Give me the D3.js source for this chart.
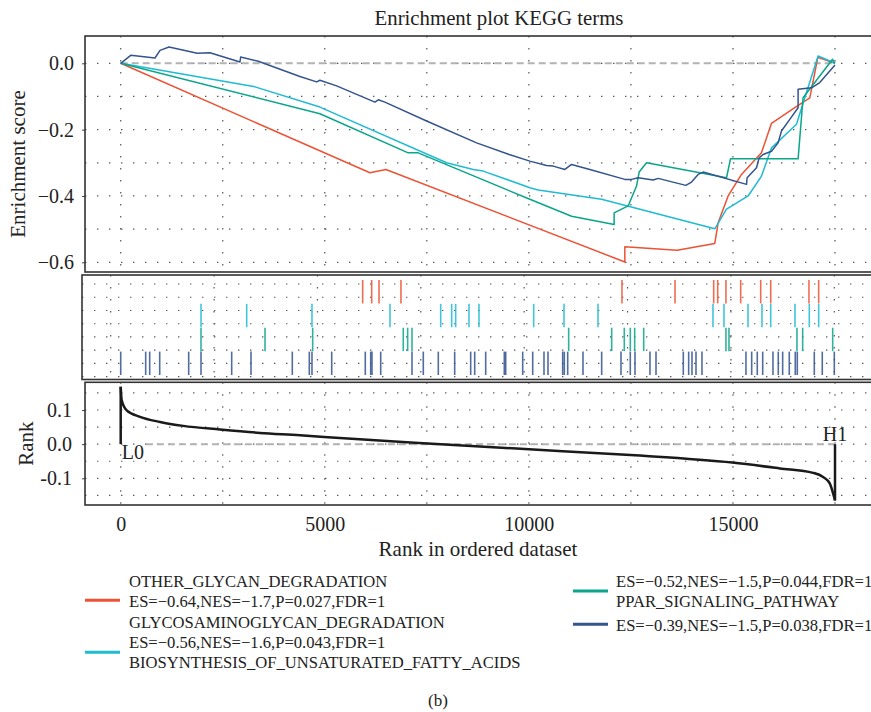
<!DOCTYPE html>
<html>
<head>
<meta charset="utf-8">
<script src="https://cdn.jsdelivr.net/npm/d3@7/dist/d3.min.js"></script>
<style>
  html, body { margin: 0; padding: 0; background: #fff; }
  svg { display: block; }
  text { font-family: "Liberation Serif", "DejaVu Serif", serif; fill: #222; }
</style>
</head>
<body>
<svg id="chart" width="871" height="712"></svg>
<script>
// ---------------- DATA ----------------
const seriesNames = ["OTHER_GLYCAN_DEGRADATION", "GLYCOSAMINOGLYCAN_DEGRADATION",
  "PPAR_SIGNALING_PATHWAY", "BIOSYNTHESIS_OF_UNSATURATED_FATTY_ACIDS"];
const seriesColors = ["#EC5234", "#1FBBD3", "#0AA58A", "#33548E"];

// running enrichment score: [rank, ES]
const esRed = [[0,0],[6106,-0.330],[6498,-0.320],[12351,-0.599],[12351,-0.553],[13632,-0.564],
  [14555,-0.543],[14637,-0.481],[14882,-0.400],[15209,-0.335],[15699,-0.270],[15944,-0.181],
  [16515,-0.134],[16882,-0.104],[17080,0.018],[17500,0]];
const esCyan = [[0,0],[3289,-0.071],[4881,-0.132],[7984,-0.300],[8636,-0.320],[8881,-0.325],
  [10024,-0.375],[10228,-0.382],[11781,-0.410],[14555,-0.499],[14842,-0.440],[15372,-0.400],
  [15699,-0.340],[15944,-0.255],[16557,-0.184],[16760,-0.104],[17086,0.022],[17500,0]];
const esGreen = [[0,0],[4881,-0.152],[7044,-0.270],[7289,-0.270],[10024,-0.410],[11046,-0.461],
  [12089,-0.486],[12089,-0.451],[12432,-0.430],[12638,-0.370],[12702,-0.328],[12883,-0.300],
  [14842,-0.345],[14940,-0.288],[16596,-0.288],[16718,-0.104],[17440,0.012],[17500,0]];
const esBlue = [[0,0],[245,0.024],[840,0.016],[963,0.039],[1183,0.049],[1876,0.030],[2187,0.032],
  [2922,0.004],[2939,0.019],[3370,0.006],[4391,-0.040],[4800,-0.056],[4881,-0.051],[5290,-0.068],
  [6228,-0.117],[6310,-0.110],[6473,-0.117],[7494,-0.174],[8719,-0.240],[9518,-0.275],
  [10024,-0.295],[10433,-0.308],[10596,-0.310],[10882,-0.320],[11046,-0.305],[11494,-0.320],
  [12351,-0.350],[12515,-0.350],[12677,-0.345],[13045,-0.352],[13167,-0.347],[13845,-0.368],
  [13985,-0.358],[14147,-0.335],[14270,-0.328],[15332,-0.365],[15347,-0.345],[15577,-0.315],
  [15641,-0.285],[15739,-0.275],[15944,-0.265],[16106,-0.240],[16189,-0.204],[16392,-0.169],
  [16596,-0.134],[16596,-0.078],[16924,-0.074],[17127,-0.058],[17500,-0.005]];

// gene hit positions (ranks) per set
const hitsRed = [6094,6312,6489,7020,12365,13648,14583,14680,14880,15236,15720,15962,16887,17122];
const hitsCyan = [2184,3289,4868,6755,7981,8247,8343,8665,8907,10230,10963,11785,14566,14832,
  15413,15751,15962,16549,16895,17122];
const hitsGreen = [2184,3732,4885,7076,7182,7287,11076,12116,12421,12566,12672,12890,14880,14953,
  16597,16735,17461];
const hitsBlue = [242,846,943,1185,1886,2184,2926,3393,4392,4803,4868,5345,6157,6288,6319,6530,
  7287,7560,7923,8319,8706,8803,9069,9519,9553,9964,10206,10479,10576,10931,10970,11052,11422,
  11874,12341,12566,12680,13042,13188,13848,13978,14058,14155,14300,15364,15502,15637,15768,
  16017,16145,16251,16411,16556,16605,17016,17209,17500];

// ranked list metric: [rank, value]
const rankMetric = [[0,0.168],[24,0.129],[147,0.099],[473,0.080],[963,0.065],[1533,0.0535],
  [2432,0.043],[3412,0.033],[4392,0.026],[4983,0.021],[7520,0.002],[10007,-0.015],[12490,-0.032],
  [14985,-0.054],[16147,-0.071],[16963,-0.084],[17208,-0.096],[17372,-0.115],[17453,-0.144],
  [17500,-0.165]];

const xTicks = [0, 5000, 10000, 15000];
const xGrid = [0, 2500, 5000, 7500, 10000, 12500, 15000, 17500];
const esTicks = [0, -0.2, -0.4, -0.6];
const esGrid = [0, -0.1, -0.2, -0.3, -0.4, -0.5, -0.6];
const rankTicks = [0.1, 0, -0.1];
const rankGrid = [0.15, 0.1, 0.05, 0, -0.05, -0.1, -0.15];

const legendLeftText = [
  ["OTHER_GLYCAN_DEGRADATION", "ES=\u22120.64,NES=\u22121.7,P=0.027,FDR=1"],
  ["GLYCOSAMINOGLYCAN_DEGRADATION", "ES=\u22120.56,NES=\u22121.6,P=0.043,FDR=1",
   "BIOSYNTHESIS_OF_UNSATURATED_FATTY_ACIDS"]
];
const legendLeftKeys = [0, 1];
const legendRightText = [
  ["ES=\u22120.52,NES=\u22121.5,P=0.044,FDR=1", "PPAR_SIGNALING_PATHWAY"],
  ["ES=\u22120.39,NES=\u22121.5,P=0.038,FDR=1"]
];
const legendRightKeys = [2, 3];

// ---------------- DRAW ----------------
const svg = d3.select("#chart");
const gridColor = "#555";
const gridDash = "1.4,10.6";

// scales
const x = d3.scaleLinear().domain([0, 17500]).range([120.7, 835]);
const xMid = d3.scaleLinear().domain([0, 17500]).range([110.7, 834.3]);
const yES = d3.scaleLinear().domain([0, -0.6]).range([63.3, 262.3]);
const yRank = d3.scaleLinear().domain([0.1, -0.1]).range([410, 478.3]);

const pTop = {x0: 85, x1: 900, y0: 36, y1: 272};
const pMid = {x0: 82, x1: 900, y0: 275, y1: 379.5};
const pBot = {x0: 85, x1: 900, y0: 382.3, y1: 505};

const series = [esRed, esCyan, esGreen, esBlue];
const hits = [hitsRed, hitsCyan, hitsGreen, hitsBlue];

// Title
svg.append("text").attr("x", 499).attr("y", 25).attr("text-anchor", "middle")
  .attr("font-size", 20.8).text("Enrichment plot KEGG terms");

// ---------- Top panel ----------
const gTop = svg.append("g");
gTop.selectAll(".vg").data(xGrid).join("line")
  .attr("x1", d => x(d)).attr("x2", d => x(d)).attr("y1", pTop.y0).attr("y2", pTop.y1)
  .attr("stroke", gridColor).attr("stroke-width", 1.2).attr("stroke-dasharray", gridDash);
gTop.selectAll(".hg").data(esGrid).join("line")
  .attr("x1", pTop.x0).attr("x2", pTop.x1).attr("y1", d => yES(d)).attr("y2", d => yES(d))
  .attr("stroke", gridColor).attr("stroke-width", 1.2).attr("stroke-dasharray", gridDash);
gTop.append("line").attr("x1", x(0)).attr("x2", x(17500)).attr("y1", yES(0)).attr("y2", yES(0))
  .attr("stroke", "#b3b3b3").attr("stroke-width", 2).attr("stroke-dasharray", "7,4");
const lineES = d3.line().x(d => x(d[0])).y(d => yES(d[1]));
series.forEach((s, i) => {
  gTop.append("path").datum(s).attr("d", lineES).attr("fill", "none")
    .attr("stroke", seriesColors[i]).attr("stroke-width", 1.5).attr("stroke-linejoin", "round");
});
const axES = d3.axisLeft(yES).tickValues(esTicks).tickSize(3).tickPadding(8)
  .tickFormat(d => d === 0 ? "0.0" : "\u2212" + Math.abs(d).toFixed(1));
const gAxES = svg.append("g").attr("transform", `translate(${pTop.x0},0)`).call(axES);
gAxES.select(".domain").remove();
gAxES.selectAll("line").attr("stroke", "#444");
gAxES.selectAll("text").attr("font-size", 20).attr("font-family", "Liberation Serif").attr("fill", "#222");
svg.append("rect").attr("x", pTop.x0).attr("y", pTop.y0).attr("width", pTop.x1 - pTop.x0)
  .attr("height", pTop.y1 - pTop.y0).attr("fill", "none").attr("stroke", "#333").attr("stroke-width", 1.6);
svg.append("text").attr("transform", `translate(25,${(pTop.y0 + pTop.y1) / 2 + 10}) rotate(-90)`)
  .attr("text-anchor", "middle").attr("font-size", 21).text("Enrichment score");

// ---------- Middle panel ----------
const gMid = svg.append("g");
const midRows = d3.range(8);
const yMidGrid = d3.scaleLinear().domain([0, 7]).range([284, 376.7]);
gMid.selectAll(".vg").data(xGrid).join("line")
  .attr("x1", d => xMid(d)).attr("x2", d => xMid(d)).attr("y1", pMid.y0).attr("y2", pMid.y1)
  .attr("stroke", gridColor).attr("stroke-width", 1.2).attr("stroke-dasharray", gridDash);
gMid.selectAll(".hg").data(midRows).join("line")
  .attr("x1", pMid.x0).attr("x2", pMid.x1).attr("y1", d => yMidGrid(d)).attr("y2", d => yMidGrid(d))
  .attr("stroke", gridColor).attr("stroke-width", 1.2).attr("stroke-dasharray", gridDash);
const yBand = d3.scaleBand().domain(d3.range(4)).range([280, 375]).paddingInner(0.02);
hits.forEach((h, i) => {
  gMid.selectAll(".t" + i).data(h).join("line")
    .attr("x1", d => xMid(d)).attr("x2", d => xMid(d))
    .attr("y1", yBand(i)).attr("y2", yBand(i) + yBand.bandwidth())
    .attr("stroke", seriesColors[i]).attr("stroke-width", 1.6).attr("stroke-opacity", 0.85);
});
svg.append("rect").attr("x", pMid.x0).attr("y", pMid.y0).attr("width", pMid.x1 - pMid.x0)
  .attr("height", pMid.y1 - pMid.y0).attr("fill", "none").attr("stroke", "#333").attr("stroke-width", 1.6);

// ---------- Bottom panel ----------
const gBot = svg.append("g");
gBot.selectAll(".vg").data(xGrid).join("line")
  .attr("x1", d => x(d)).attr("x2", d => x(d)).attr("y1", pBot.y0).attr("y2", pBot.y1)
  .attr("stroke", gridColor).attr("stroke-width", 1.2).attr("stroke-dasharray", gridDash);
gBot.selectAll(".hg").data(rankGrid).join("line")
  .attr("x1", pBot.x0).attr("x2", pBot.x1).attr("y1", d => yRank(d)).attr("y2", d => yRank(d))
  .attr("stroke", gridColor).attr("stroke-width", 1.2).attr("stroke-dasharray", gridDash);
const l0 = gBot.append("text").attr("x", x(0) + 1).attr("y", yRank(0) + 15)
  .attr("font-size", 20).text("L0");
const l0End = l0.node().getBBox();
gBot.append("line").attr("x1", l0End.x + l0End.width + 2).attr("x2", x(17500))
  .attr("y1", yRank(0)).attr("y2", yRank(0))
  .attr("stroke", "#b3b3b3").attr("stroke-width", 2).attr("stroke-dasharray", "7,4");
gBot.append("text").attr("x", x(17500)).attr("y", yRank(0) - 3.5).attr("text-anchor", "middle")
  .attr("font-size", 20).text("H1");
const first = rankMetric[0], last = rankMetric[rankMetric.length - 1];
gBot.append("line").attr("x1", x(first[0])).attr("x2", x(first[0]))
  .attr("y1", yRank(0)).attr("y2", yRank(first[1])).attr("stroke", "#1a1a1a").attr("stroke-width", 2.5);
gBot.append("line").attr("x1", x(last[0])).attr("x2", x(last[0]))
  .attr("y1", yRank(0)).attr("y2", yRank(last[1])).attr("stroke", "#1a1a1a").attr("stroke-width", 2.5);
gBot.append("path").datum(rankMetric)
  .attr("d", d3.line().x(d => x(d[0])).y(d => yRank(d[1])).curve(d3.curveMonotoneX))
  .attr("fill", "none").attr("stroke", "#1a1a1a").attr("stroke-width", 2.5);
const axR = d3.axisLeft(yRank).tickValues(rankTicks).tickSize(3).tickPadding(10)
  .tickFormat(d => d.toFixed(1));
const gAxR = svg.append("g").attr("transform", `translate(${pBot.x0},0)`).call(axR);
gAxR.select(".domain").remove();
gAxR.selectAll("line").attr("stroke", "#444");
gAxR.selectAll("text").attr("font-size", 20).attr("font-family", "Liberation Serif").attr("fill", "#222");
const axX = d3.axisBottom(x).tickValues(xTicks).tickSize(0).tickPadding(12).tickFormat(d3.format("d"));
const gAxX = svg.append("g").attr("transform", `translate(0,${pBot.y1})`).call(axX);
gAxX.select(".domain").remove();
gAxX.selectAll("text").attr("font-size", 20).attr("font-family", "Liberation Serif").attr("fill", "#222");
svg.append("rect").attr("x", pBot.x0).attr("y", pBot.y0).attr("width", pBot.x1 - pBot.x0)
  .attr("height", pBot.y1 - pBot.y0).attr("fill", "none").attr("stroke", "#333").attr("stroke-width", 1.6);
svg.append("text").attr("transform", `translate(33,${(pBot.y0 + pBot.y1) / 2}) rotate(-90)`)
  .attr("text-anchor", "middle").attr("font-size", 21).text("Rank");
svg.append("text").attr("x", 478).attr("y", 556).attr("text-anchor", "middle")
  .attr("font-size", 21).text("Rank in ordered dataset");

// ---------- Legend ----------
const lineH = 20.4;
// layout: line index (fractional) the key aligns with, and extra gap before each entry
function drawLegend(texts, keys, keyAt, gaps, xKey, xText, yStart) {
  let y = yStart;
  const g = svg.append("g");
  texts.forEach((lines, i) => {
    y += gaps[i];
    lines.forEach((t, j) => {
      g.append("text").attr("x", xText).attr("y", y + j * lineH + 6)
        .attr("font-size", 16.6).text(t);
    });
    const ky = y + keyAt[i] * lineH;
    g.append("line").attr("x1", xKey).attr("x2", xKey + 35).attr("y1", ky).attr("y2", ky)
      .attr("stroke", seriesColors[keys[i]]).attr("stroke-width", 3);
    y += lines.length * lineH;
  });
}
drawLegend(legendLeftText, legendLeftKeys, [0.95, 1.5], [0, 0], 85, 129, 580.8);
drawLegend(legendRightText, legendRightKeys, [0.5, -0.05], [0, 3.6], 573, 616, 580.8);

svg.append("text").attr("x", 438).attr("y", 706).attr("text-anchor", "middle")
  .attr("font-size", 17).text("(b)");
</script>
</body>
</html>
